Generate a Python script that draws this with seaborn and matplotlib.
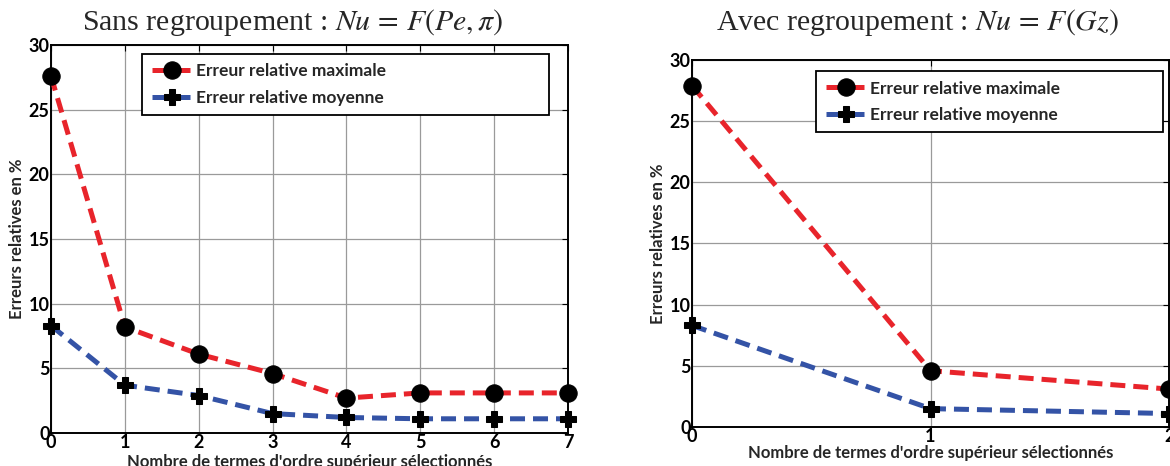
import numpy as np
import pandas as pd
import matplotlib
matplotlib.use("Agg")
import matplotlib.pyplot as plt
import seaborn as sns

# data
termes_a = [0, 1, 2, 3, 4, 5, 6, 7]
max_a = [27.6, 8.2, 6.1, 4.6, 2.7, 3.1, 3.1, 3.1]
moy_a = [8.3, 3.7, 2.9, 1.5, 1.2, 1.1, 1.1, 1.1]

termes_b = [0, 1, 2]
max_b = [27.9, 4.6, 3.1]
moy_b = [8.3, 1.5, 1.1]

titre_a = r"Sans regroupement : $Nu\,=\,F(Pe,\pi)$"
titre_b = r"Avec regroupement : $Nu\,=\,F(Gz)$"
lab_max = "Erreur relative maximale"
lab_moy = "Erreur relative moyenne"
xlab = "Nombre de termes d'ordre supérieur sélectionnés"
ylab = "Erreurs relatives en %"

sns.set_style("white")
plt.rcParams["font.family"] = ["Lato", "DejaVu Sans"]
plt.rcParams["mathtext.fontset"] = "stix"

rouge = "#e8242b"
bleu = "#3453a6"
tirets = (0, (3.0, 1.6))

fig = plt.figure(figsize=(11.7, 4.66), dpi=100)
ax1 = fig.add_axes([0.0436, 0.0708, 0.4419, 0.8326])
ax2 = fig.add_axes([0.5915, 0.0837, 0.4077, 0.7876])


def trace(ax, x, ymax, ymoy, leg_box, ylab_x, xlab_y):
    df = pd.DataFrame({"x": x, "max": ymax, "moy": ymoy})
    sns.lineplot(data=df, x="x", y="max", ax=ax, color=rouge, lw=3.6,
                 linestyle=tirets, marker="o", markersize=12.5,
                 markerfacecolor="k", markeredgecolor="k", label=lab_max,
                 clip_on=False, zorder=5)
    sns.lineplot(data=df, x="x", y="moy", ax=ax, color=bleu, lw=3.6,
                 linestyle=tirets, marker="P", markersize=11,
                 markerfacecolor="k", markeredgecolor="k", label=lab_moy,
                 clip_on=False, zorder=5)
    ax.set_xlim(min(x), max(x))
    ax.set_ylim(0, 30)
    ax.set_xticks(x)
    ax.set_yticks([0, 5, 10, 15, 20, 25, 30])
    ax.grid(True, color="#9a9a9a", lw=0.9)
    ax.tick_params(direction="in", top=True, right=True, length=4,
                   labelsize=13, pad=1, width=0.8, colors="k")
    for s in ax.spines.values():
        s.set_color("k")
        s.set_linewidth(1.4)
    for t in ax.get_xticklabels() + ax.get_yticklabels():
        t.set_fontweight("bold")
    ax.set_xlabel(xlab, fontsize=12, fontweight="bold")
    ax.set_ylabel(ylab, fontsize=12, fontweight="bold")
    ax.xaxis.set_label_coords(0.5, xlab_y)
    ax.yaxis.set_label_coords(ylab_x, 0.5)
    leg = ax.legend(loc="upper left", bbox_to_anchor=leg_box, mode="expand",
                    borderaxespad=0, fancybox=False, frameon=True,
                    edgecolor="k", framealpha=1, handlelength=2.3,
                    handletextpad=0.25, borderpad=0.55, labelspacing=0.6,
                    prop={"size": 12.5, "weight": "bold"})
    leg.get_frame().set_linewidth(1.3)
    leg.set_zorder(10)


trace(ax1, termes_a, max_a, moy_a, (0.176, 0.0, 0.787, 0.977), -0.05, -0.055)
trace(ax2, termes_b, max_b, moy_b, (0.26, 0.0, 0.727, 0.970), -0.055, -0.05)

fig.text(0.25, 0.951, titre_a, ha="center", va="center", fontsize=21.5,
         family="Liberation Serif")
fig.text(0.784, 0.951, titre_b, ha="center", va="center", fontsize=21.5,
         family="Liberation Serif")

fig.savefig("out.png", dpi=100)
